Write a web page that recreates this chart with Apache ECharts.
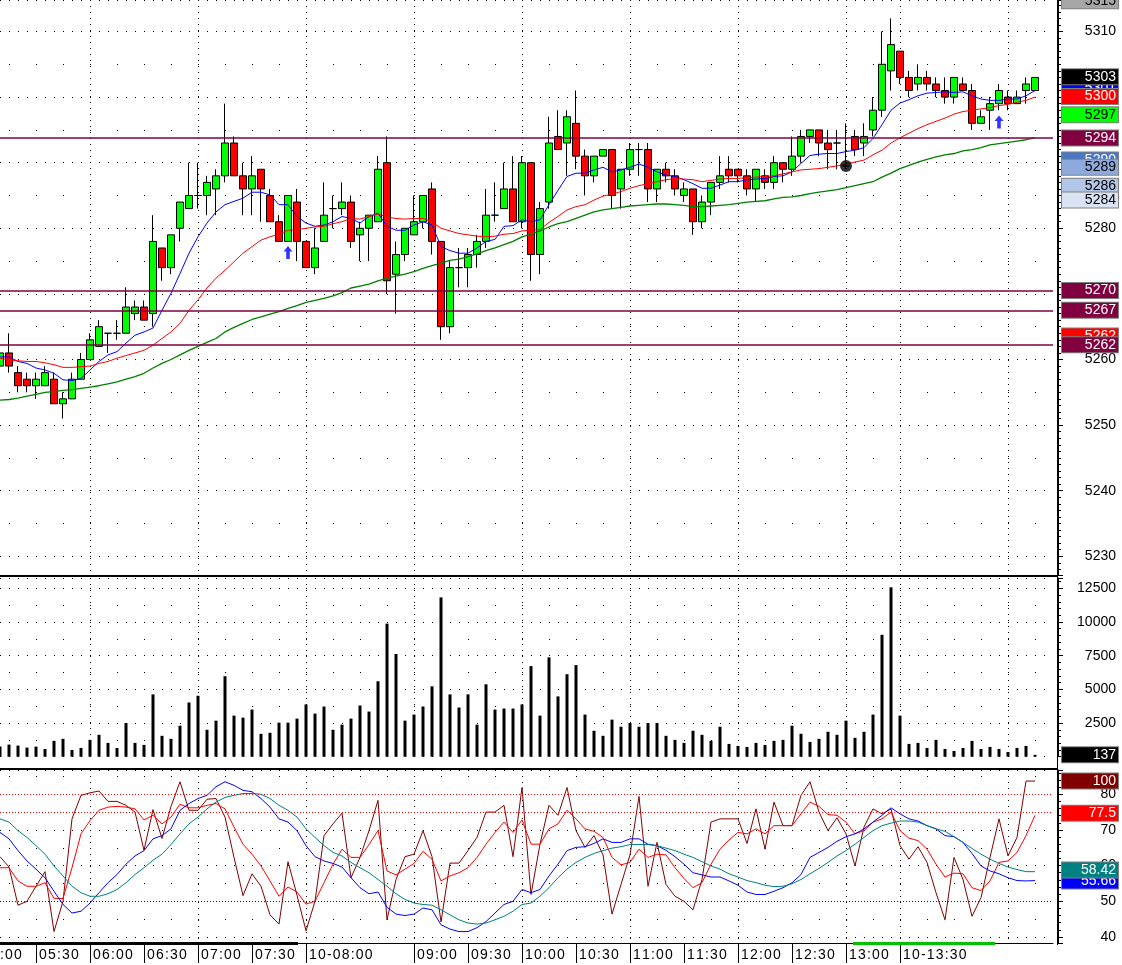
<!DOCTYPE html>
<html>
<head>
<meta charset="utf-8">
<title>ES 5 min</title>
<script src="https://cdn.jsdelivr.net/npm/echarts@6/dist/echarts.min.js"></script>
<style>
html, body { margin:0; padding:0; background:#fff; }
#chart { width:1122px; height:965px; }
</style>
</head>
<body>
<div id="chart"></div>
<script>
// ---- data ----
var opens = [5259,5261,5258,5257,5256,5256,5257,5253.25,5254,5257, 5260,5262,5264,5264,5264,5267,5268,5267,5277,5274,
  5280,5283,5285,5285,5286,5288,5293,5288,5286,5289, 5285,5281,5278,5284,5278,5274,5278,5283,5283,5284,
  5279,5280,5281,5290,5273,5276,5279,5281,5286,5278, 5265,5274,5274,5276,5278,5282,5283,5286,5281,5290,
  5276,5284,5294,5293,5296,5291,5288,5291,5292,5286, 5289,5292,5292,5286,5289,5288,5285,5286,5281,5284,
  5287,5289,5289,5288,5286,5288,5287,5290,5289,5291, 5294,5295,5293,5293,5289.5,5294,5293,5295,5298,5304,
  5307,5303,5302,5303,5302,5301,5300,5302,5301,5296, 5298,5299,5300,5299,5301,5301];
var closes = [5261,5259,5256,5256,5257,5258,5253.25,5254,5257,5260, 5263,5265,5264,5264,5268,5268,5266,5278,5274,5279,
  5284,5285,5285,5287,5288,5293,5288,5286,5288,5286, 5281,5278,5285,5278,5274,5277,5282,5283,5284,5278,
  5280,5282,5289,5272,5276,5280,5281,5285,5278,5265, 5274,5274,5276,5278,5282,5282,5286,5281,5290,5276,
  5283,5293,5292,5297,5291,5288,5291,5292,5285,5289, 5292,5292,5286,5289,5288,5286,5286,5281,5284,5287,
  5288,5288,5288,5286,5289,5287,5290,5289,5291,5294, 5295,5293,5292,5293,5289.5,5292,5294,5298,5305,5308,
  5303,5301,5303,5302,5301,5300,5303,5301,5296,5297, 5299,5301,5299,5300,5302,5303];
var lows = [5257,5258,5255,5255,5254,5256,5253.25,5251,5254,5257, 5260,5262,5261,5263,5264,5266,5266,5265,5272,5273,
  5278,5283,5283,5282,5282,5287,5288,5282,5282,5281, 5281,5278,5278,5275,5274,5273,5278,5280,5282,5277,
  5275,5275,5281,5270,5267,5275,5279,5280,5276,5263, 5264,5271,5271,5274,5277,5281,5283,5281,5280,5272,
  5273,5283,5292,5288,5289,5285,5287,5291,5283,5283, 5288,5288,5284,5284,5287,5285,5284,5279,5280,5282,
  5286,5287,5287,5285,5284,5286,5286,5287,5288,5290, 5293,5291,5289,5289,5289,5291,5291,5294,5297,5301,
  5302,5300,5301,5301,5300,5299,5299,5301,5295,5296, 5295,5298,5298,5299,5299,5301];
var highs = [5262,5264,5259,5258,5258,5259,5258,5255,5258,5261, 5264,5266,5264,5266,5271,5269,5269,5282,5277,5279,
  5284,5290,5290,5288,5289,5299,5294,5290,5291,5289, 5286,5282,5285,5286,5278,5280,5287,5285,5287,5285,
  5281,5282,5291,5294,5278,5280,5285,5285,5287,5278, 5275,5277,5277,5279,5286,5287,5290,5291,5291,5290,
  5284,5297,5298,5298,5301,5292,5291,5292,5292,5289, 5293,5293,5293,5289,5290,5289,5287,5286,5285,5287,
  5291,5291,5289,5289,5289,5289,5291,5290,5294,5295, 5295,5295,5295,5295,5296,5295,5296,5300,5310,5312,
  5307,5304,5305,5304,5303,5303,5303,5303,5302,5298, 5300,5302,5301,5301,5303,5303];

var maFast = [5260.4,5260.4,5259.7,5259.4,5258.7,5258.4,5257.9,5256.9,5256.8,5257.1, 5258.4,5259.7,5260.7,5261.2,5262.5,5263.7,5264.2,5264.8,5267.5,5270.1,
  5273.1,5276.2,5278.7,5280.8,5282.5,5283.6,5284.1,5284.6,5285.5,5285.5, 5285.1,5283.6,5283.6,5281.8,5280.8,5280.3,5280.5,5281.0,5281.8,5281.5,
  5280.8,5281.8,5282.3,5280.3,5279.7,5279.7,5280.5,5281.0,5280.5,5277.2, 5276.6,5276.2,5276.2,5277.0,5278.0,5278.3,5280.3,5280.4,5281.3,5281.0,
  5281.3,5283.6,5285.8,5287.9,5288.4,5288.4,5288.9,5289.3,5288.6,5288.9, 5289.3,5289.8,5289.3,5288.6,5288.1,5287.9,5287.4,5286.8,5286.1,5286.1,
  5286.6,5287.1,5287.1,5287.4,5287.5,5287.6,5287.9,5288.0,5288.6,5289.9, 5291.1,5291.3,5291.4,5291.4,5291.7,5291.9,5292.3,5293.7,5295.8,5298.0,
  5299.1,5299.6,5300.2,5300.6,5300.7,5300.8,5300.7,5300.8,5300.2,5299.7, 5299.5,5299.5,5299.7,5299.7,5300.2,5301.0];
var maMid = [5260.2,5259.9,5259.8,5259.7,5259.7,5259.5,5259.2,5258.8,5258.8,5258.9, 5259.0,5259.4,5259.7,5260.2,5260.6,5261.0,5261.4,5262.2,5263.2,5264.2,
  5265.5,5267.5,5269.1,5270.9,5272.4,5273.6,5274.9,5276.2,5277.2,5278.2, 5278.7,5279.1,5279.7,5279.8,5280.0,5280.2,5280.3,5280.7,5281.0,5281.5,
  5281.4,5281.8,5282.2,5281.7,5281.5,5281.4,5281.5,5281.5,5281.0,5280.0, 5279.6,5279.2,5279.0,5278.8,5278.7,5278.8,5279.1,5279.2,5279.6,5279.7,
  5279.8,5280.9,5281.8,5282.8,5283.3,5283.6,5284.3,5284.9,5285.2,5285.6, 5286.1,5286.5,5286.8,5287.1,5287.4,5287.6,5287.5,5287.4,5287.1,5287.3,
  5287.5,5287.6,5287.6,5287.7,5287.8,5287.9,5288.0,5288.3,5288.6,5288.9, 5289.0,5289.1,5289.3,5289.5,5289.8,5290.1,5290.4,5291.2,5291.9,5293.0,
  5293.8,5294.5,5295.2,5295.8,5296.3,5296.8,5297.4,5297.8,5298.0,5298.2, 5298.4,5298.7,5298.9,5299.2,5299.5,5300.0];
var maSlow = [5253.8,5253.9,5254.1,5254.4,5254.7,5255.0,5255.1,5255.3,5255.4,5255.6, 5255.8,5256.0,5256.3,5256.6,5257.0,5257.4,5257.9,5258.7,5259.4,5260.0,
  5260.7,5261.4,5262.0,5262.6,5263.2,5264.2,5264.9,5265.5,5266.1,5266.5, 5266.9,5267.3,5267.8,5268.2,5268.7,5269.0,5269.3,5269.7,5270.2,5270.9,
  5271.2,5271.5,5272.0,5272.4,5272.7,5273.0,5273.4,5273.9,5274.3,5274.7, 5275.1,5275.3,5275.7,5276.1,5276.6,5277.0,5277.5,5278.0,5278.7,5279.1,
  5279.6,5280.2,5280.7,5281.0,5281.5,5282.0,5282.5,5282.8,5283.0,5283.2, 5283.4,5283.5,5283.6,5283.7,5283.7,5283.6,5283.5,5283.3,5283.3,5283.4,
  5283.5,5283.6,5283.8,5284.0,5284.1,5284.2,5284.5,5284.7,5284.8,5285.0, 5285.3,5285.5,5285.7,5285.9,5286.2,5286.5,5286.8,5287.1,5287.8,5288.4,
  5289.1,5289.6,5290.1,5290.5,5290.9,5291.2,5291.4,5291.8,5292.0,5292.3, 5292.7,5292.9,5293.1,5293.3,5293.5,5293.8];

var volumes = [750,900,825,675,750,575,1175,1325,500,650, 1250,1625,1025,650,2500,1025,875,4625,1550,1325,
  2300,4025,4525,2000,2675,5975,3050,2900,3500,1700, 1775,2525,2525,2825,3875,3200,3725,2000,2375,2825,
  3800,3350,5600,9875,7625,2675,3125,3725,5225,11825, 4625,3650,4625,2375,5375,3500,3575,3575,3875,6725,
  3050,7375,4475,6125,6800,3125,1925,1550,2750,2225, 2500,2225,2500,2500,1550,1250,1025,1925,1625,1175,
  2225,950,800,725,1025,875,1175,1250,2300,1700, 1100,1325,1850,1625,2675,1400,1850,3125,9050,12575,
  3050,950,1025,650,1250,575,425,650,1175,575, 725,575,350,650,800,137];

var oscFast = [62.5,59.6,48.9,50.0,54.2,58.3,41.5,50.0,73.1,79.7, 80.4,80.9,78.0,78.0,76.9,75.0,64.3,75.7,67.6,76.6,
  83.5,75.5,75.5,78.6,78.8,73.6,62.3,51.6,57.7,54.2, 46.2,43.6,61.1,51.7,41.7,50.0,68.4,71.7,74.7,56.6,
  62.3,69.8,78.3,44.8,56.1,62.5,63.2,69.8,62.5,44.2, 60.7,60.7,64.2,67.9,75.0,75.0,76.9,62.5,81.9,51.9,
  66.0,76.9,74.1,81.9,69.8,65.1,68.4,63.0,46.4,54.7, 63.0,79.4,54.2,66.5,54.7,51.4,50.0,47.6,56.1,72.2,
  73.1,73.1,73.1,66.2,75.9,64.6,77.8,71.2,71.2,79.7, 83.5,75.0,69.8,73.4,68.9,59.9,70.8,75.9,74.5,75.9,
  65.6,61.8,65.3,60.9,52.4,44.8,62.3,56.1,45.8,51.0, 62.3,73.1,62.7,67.9,83.7,83.7];
var oscSlow = [59.4,59.4,55.7,54.2,54.2,55.2,50.8,50.8,59.4,68.9, 72.6,75.5,76.4,76.6,76.4,75.9,72.8,74.1,71.7,73.6,
  77.2,76.2,76.2,76.9,77.4,75.9,70.8,66.0,63.2,59.9, 55.7,51.4,54.0,52.6,49.2,50.0,55.2,60.4,64.6,62.3,
  62.3,65.9,69.8,58.5,57.4,59.0,60.6,64.0,61.8,55.7, 57.1,58.0,59.4,62.3,66.0,69.3,72.2,69.3,72.8,66.0,
  66.0,70.3,71.7,75.5,73.1,70.3,69.6,67.9,62.3,60.2, 60.9,64.6,62.3,63.2,63.0,59.4,56.4,53.8,55.2,60.4,
  64.6,67.2,69.3,68.9,70.3,68.9,71.2,71.2,71.2,74.5, 77.8,76.6,74.3,74.1,72.2,68.9,69.8,72.2,73.1,75.0,
  69.8,67.7,67.0,64.6,60.4,56.8,57.9,57.7,53.8,53.0, 55.7,60.9,61.3,63.7,68.4,74.1];
var oscBlue = [69.3,67.5,64.2,61.3,59.0,56.6,52.8,49.1,46.7,47.2, 49.5,52.4,55.2,57.5,60.4,62.7,64.2,67.5,68.4,70.3,
  75.5,77.4,78.8,79.7,82.1,83.5,82.5,81.1,80.7,78.8, 76.4,73.1,72.2,69.8,65.6,62.5,61.3,60.6,59.6,56.6,
  53.8,52.1,52.6,48.3,46.4,46.0,46.4,48.1,47.6,43.4, 42.2,41.5,41.5,42.6,44.3,46.7,49.1,50.0,53.3,52.4,
  53.3,57.1,60.4,64.2,65.1,65.3,66.2,67.5,66.5,66.5, 67.5,67.5,66.0,65.6,64.3,62.5,60.4,58.0,57.4,56.8,
  56.8,55.7,54.5,52.6,51.9,51.9,52.8,53.8,55.2,57.5, 62.3,63.7,65.1,66.8,68.1,68.9,70.3,72.2,74.1,76.2,
  74.5,73.1,72.5,71.2,70.3,68.4,68.1,66.5,63.4,59.9, 58.5,57.7,56.6,55.8,55.7,55.8];
var oscTeal = [73.1,72.2,69.8,67.9,65.6,63.2,59.9,57.1,54.2,52.4, 51.4,51.4,52.1,53.3,55.2,57.5,59.4,61.5,63.2,65.9,
  68.9,71.7,73.6,75.9,77.8,79.1,79.7,80.2,80.2,80.0, 78.8,76.9,75.5,73.6,70.3,67.9,65.6,63.7,62.7,60.9,
  59.4,58.0,56.1,54.2,52.1,50.5,49.5,49.1,48.9,47.6, 46.2,44.8,43.9,43.6,43.9,44.8,45.8,47.2,49.1,49.5,
  51.4,53.8,56.6,59.0,60.9,62.3,63.4,64.2,64.9,65.3, 65.9,65.9,65.9,65.6,64.9,64.2,63.2,62.3,61.1,59.9,
  59.0,57.7,56.8,55.8,55.2,54.5,54.1,54.2,54.9,56.1, 57.7,59.2,60.9,62.7,64.2,66.0,67.9,69.8,71.2,71.9,
  72.5,72.5,72.2,71.2,70.3,69.6,68.1,66.5,64.8,63.2, 61.8,60.6,59.6,58.9,58.3,58.3];

// signals
var arrowIdx = [32, 111];
var arrowPrice = [5276.3, 5296.2];
var dotIdx = [94];
var dotPrice = [5289.5];

// horizontal levels and right-hand value tags
var levelValues = [5293.75, 5270.5, 5267.5, 5262.25];
var levelTexts = ['5294', '5270', '5267', '5262'];
var tagValues = [5314.7, 5301.4, 5303.1, 5300.1, 5297.3, 5290.4, 5289.3, 5286.4, 5284.3, 5263.6];
var tagTexts = ['5315', '5301', '5303', '5300', '5297', '5290', '5289', '5286', '5284', '5262'];
var volTag = 137;
var oscTagValues = [83.7, 74.7, 55.7, 58.8];
var oscTagTexts = ['100', '77.5', '55.66', '58.42'];

// time axis: 5 minute bars from 05:10, ticks & grid lines
var labelIdx = [4,10,16,22,28,34,46,52,58,64,70,76,82,88,94,100];
var tickText = ['05:30','06:00','06:30','07:00','07:30','10-08:00','09:00','09:30','10:00','10:30','11:00','11:30','12:00','12:30','13:00','10-13:30'];
var gridIdx = [10,22,34,46,58,70,82,94,100,112];

function pad(n) { return n < 10 ? '0' + n : '' + n; }
var times = [];
for (var i = 0; i < 118; i++) {
  var m = 310 + i * 5;
  times.push(pad(Math.floor(m / 60)) + ':' + pad(m % 60));
}

var candles = opens.map(function (o, i) { return [o, closes[i], lows[i], highs[i]]; });
var arrows = arrowIdx.map(function (k, i) { return [k, arrowPrice[i]]; });
var dots = dotIdx.map(function (k, i) { return [k, dotPrice[i]]; });

var FONT = 'Liberation Sans';
var tagStyle = {
  '5315': ['#a6a6a6', '#000'], '5301': ['#0000ff', '#fff'], '5303': ['#000000', '#fff'],
  '5300': ['#ff0000', '#fff'], '5297': ['#00ff00', '#000'], '5290': ['#4a78c6', '#fff'],
  '5289': ['#8eaadc', '#000'], '5286': ['#b4c6e7', '#000'], '5284': ['#dae3f3', '#000'],
  '5262': ['#ff0000', '#fff']
};
var MAROON = '#800040';

function tag(value, text, bg, fg, drawLine) {
  return {
    yAxis: value,
    lineStyle: drawLine ? { color: MAROON, width: 1.5, type: 'solid', opacity: 1 }
                        : { color: 'rgba(0,0,0,0)', width: 1, opacity: 1 },
    label: {
      show: true, position: 'end', distance: 9, opacity: 1,
      formatter: '{t|' + text + '}',
      backgroundColor: bg, borderColor: '#7f7f7f', borderWidth: 1,
      padding: [0, 2, 0, 2],
      rich: { t: { width: 52, align: 'right', color: fg, fontSize: 14, fontFamily: FONT, lineHeight: 15 } }
    }
  };
}

var priceMarks = [];
tagValues.forEach(function (v, i) {
  var s = tagStyle[tagTexts[i]];
  priceMarks.push(tag(v, tagTexts[i], s[0], s[1], false));
});
levelValues.forEach(function (v, i) {
  priceMarks.push(tag(v, levelTexts[i], MAROON, '#fff', true));
});

function spaced(s) { return s.split('').join('\u200A'); }

var denseDots = { color: '#000', width: 1, type: [1, 8] };
var sparseDots = { color: '#000', width: 1, type: [1, 26], dashOffset: 18 };
var vDots = { color: '#000', width: 1, type: [1, 5] };

function xAx(grid, withLabels) {
  return {
    type: 'category', gridIndex: grid, data: times, boundaryGap: false,
    axisLine: { show: withLabels, lineStyle: { color: '#000', width: 1 } },
    axisTick: withLabels ? {
      show: true, length: 20, lineStyle: { color: '#000' },
      interval: function (idx) { return labelIdx.indexOf(idx) >= 0; }
    } : { show: false },
    axisLabel: withLabels ? {
      show: true, align: 'left', margin: 5, padding: [0, 0, 0, 3],
      color: '#000', fontSize: 14, fontFamily: FONT,
      interval: function (idx) { return labelIdx.indexOf(idx) >= 0; },
      formatter: function (val, idx) {
        var p = labelIdx.indexOf(idx);
        return p >= 0 ? spaced(tickText[p]) : '';
      }
    } : { show: false },
    splitLine: {
      show: true, lineStyle: vDots,
      interval: function (idx) { return gridIdx.indexOf(idx) >= 0; }
    }
  };
}

function yMain(grid, opt) {
  var ax = {
    type: 'value', gridIndex: grid, position: 'right', offset: 5, scale: true,
    axisLine: { show: true, lineStyle: { color: '#000', width: 1 } },
    axisTick: { show: true, length: 5, lineStyle: { color: '#000' } },
    minorTick: { show: true, splitNumber: opt.minor, length: 3, lineStyle: { color: '#000' } },
    axisLabel: {
      show: true, align: 'right', margin: 58, color: '#000', fontSize: 14, fontFamily: FONT,
      formatter: opt.fmt, showMinLabel: true, showMaxLabel: true
    },
    splitLine: { show: true, lineStyle: denseDots },
    min: opt.min, max: opt.max
  };
  if (opt.interval) ax.interval = opt.interval; else ax.splitNumber = opt.split;
  return ax;
}
function ySub(grid, opt) {
  var ax = {
    type: 'value', gridIndex: grid, position: 'right', offset: 5, scale: true,
    axisLine: { show: false }, axisTick: { show: false }, axisLabel: { show: false },
    splitLine: { show: true, lineStyle: sparseDots },
    min: opt.min, max: opt.max
  };
  if (opt.interval) ax.interval = opt.interval; else ax.splitNumber = opt.split;
  return ax;
}

var chart = echarts.init(document.getElementById('chart'), null, { renderer: 'canvas' });

var option = {
  animation: false,
  backgroundColor: '#fff',
  textStyle: { fontFamily: FONT },
  grid: [
    { left: 0, right: 69, top: 0, height: 575 },
    { left: 0, right: 69, top: 578, height: 178.7 },
    { left: 0, right: 69, top: 770, height: 173 }
  ],
  xAxis: [xAx(0, false), xAx(1, false), xAx(2, true)],
  yAxis: [
    yMain(0, { min: 5227.15, max: 5314.8, split: 9, minor: 10,
      fmt: function (v) { return Math.abs(v % 10) < 1e-6 ? String(Math.round(v)) : ''; } }),
    ySub(0, { min: 5227.15, max: 5314.8, split: 18 }),
    yMain(1, { min: 0, max: 13265, interval: 2500, minor: 5,
      fmt: function (v) { return v > 0 && v % 2500 === 0 ? String(v) : ''; } }),
    ySub(1, { min: 0, max: 13265, interval: 1250 }),
    yMain(2, { min: 38.3, max: 86.8, split: 5, minor: 5,
      fmt: function (v) { return Math.abs(v % 10) < 1e-6 ? String(Math.round(v)) : ''; } }),
    ySub(2, { min: 38.3, max: 86.8, split: 10 })
  ],
  series: [
    {
      name: 'Price', type: 'candlestick', xAxisIndex: 0, yAxisIndex: 0,
      data: candles, barWidth: 7,
      itemStyle: {
        color: '#00ff00', color0: '#ff0000',
        borderColor: '#000', borderColor0: '#000', borderColorDoji: '#000', borderWidth: 1
      },
      markLine: { silent: true, symbol: ['none', 'none'], animation: false, data: priceMarks }
    },
    { name: 'MA fast', type: 'line', xAxisIndex: 0, yAxisIndex: 0, data: maFast, showSymbol: false,
      lineStyle: { color: '#0000ff', width: 1 }, z: 3 },
    { name: 'MA mid', type: 'line', xAxisIndex: 0, yAxisIndex: 0, data: maMid, showSymbol: false,
      lineStyle: { color: '#ff0000', width: 1 }, z: 3 },
    { name: 'MA slow', type: 'line', xAxisIndex: 0, yAxisIndex: 0, data: maSlow, showSymbol: false,
      lineStyle: { color: '#008000', width: 1.3 }, z: 3 },
    { name: 'Signal', type: 'scatter', xAxisIndex: 0, yAxisIndex: 0, data: arrows,
      symbol: 'path://M5 0 L10 5 L7 5 L7 12 L3 12 L3 5 L0 5 Z', symbolSize: [9, 13],
      itemStyle: { color: '#0000ff' }, z: 4 },
    { name: 'Dot', type: 'scatter', xAxisIndex: 0, yAxisIndex: 0, data: dots,
      symbol: 'circle', symbolSize: 12, itemStyle: { color: '#000' }, z: 4 },
    {
      name: 'Volume', type: 'bar', xAxisIndex: 1, yAxisIndex: 2, data: volumes, barWidth: 3,
      itemStyle: { color: '#000' },
      markLine: { silent: true, symbol: ['none', 'none'], animation: false,
        data: [tag(volTag, String(volTag), '#000', '#fff', false)] }
    },
    { name: 'Osc fast', type: 'line', xAxisIndex: 2, yAxisIndex: 4, data: oscFast, showSymbol: false,
      lineStyle: { color: '#800000', width: 1 },
      markLine: { silent: true, symbol: ['none', 'none'], animation: false,
        data: [tag(oscTagValues[0], oscTagTexts[0], '#800000', '#fff', false)] } },
    { name: 'Osc slow', type: 'line', xAxisIndex: 2, yAxisIndex: 4, data: oscSlow, showSymbol: false,
      lineStyle: { color: '#ff0000', width: 1 },
      markLine: { silent: true, symbol: ['none', 'none'], animation: false,
        data: [
          { yAxis: 80, lineStyle: { color: '#ff0000', width: 1, type: [1, 2] }, label: { show: false } },
          { yAxis: 75, lineStyle: { color: '#ff0000', width: 1, type: [1, 2] }, label: { show: false } },
          tag(oscTagValues[1], oscTagTexts[1], '#ff0000', '#fff', false)
        ] } },
    { name: 'Osc avg', type: 'line', xAxisIndex: 2, yAxisIndex: 4, data: oscBlue, showSymbol: false,
      lineStyle: { color: '#0000ff', width: 1 },
      markLine: { silent: true, symbol: ['none', 'none'], animation: false,
        data: [
          { yAxis: 50, lineStyle: { color: '#0000ff', width: 1, type: [1, 2] }, label: { show: false } },
          tag(oscTagValues[2], oscTagTexts[2], '#0000ff', '#fff', false)
        ] } },
    { name: 'Osc signal', type: 'line', xAxisIndex: 2, yAxisIndex: 4, data: oscTeal, showSymbol: false,
      lineStyle: { color: '#008080', width: 1 },
      markLine: { silent: true, symbol: ['none', 'none'], animation: false,
        data: [tag(oscTagValues[3], oscTagTexts[3], '#008080', '#fff', false)] } }
  ],
  graphic: [
    { type: 'rect', left: 0, top: 575, shape: { width: 1058, height: 2 }, style: { fill: '#000' }, z: 50 },
    { type: 'rect', left: 0, top: 768, shape: { width: 1058, height: 2 }, style: { fill: '#000' }, z: 50 },
    { type: 'rect', left: 1057, top: 0, shape: { width: 1, height: 945 }, style: { fill: '#000' }, z: 50 },
    { type: 'rect', left: 0, top: 942, shape: { width: 298, height: 3 }, style: { fill: '#000' }, z: 50 },
    { type: 'rect', left: 853, top: 942, shape: { width: 142, height: 3 }, style: { fill: '#00c000' }, z: 50 },
    { type: 'text', left: 0, top: 948, style: { text: spaced(':00'), fill: '#000', font: '14px "Liberation Sans"' }, z: 50 }
  ]
};

chart.setOption(option);
</script>
</body>
</html>
